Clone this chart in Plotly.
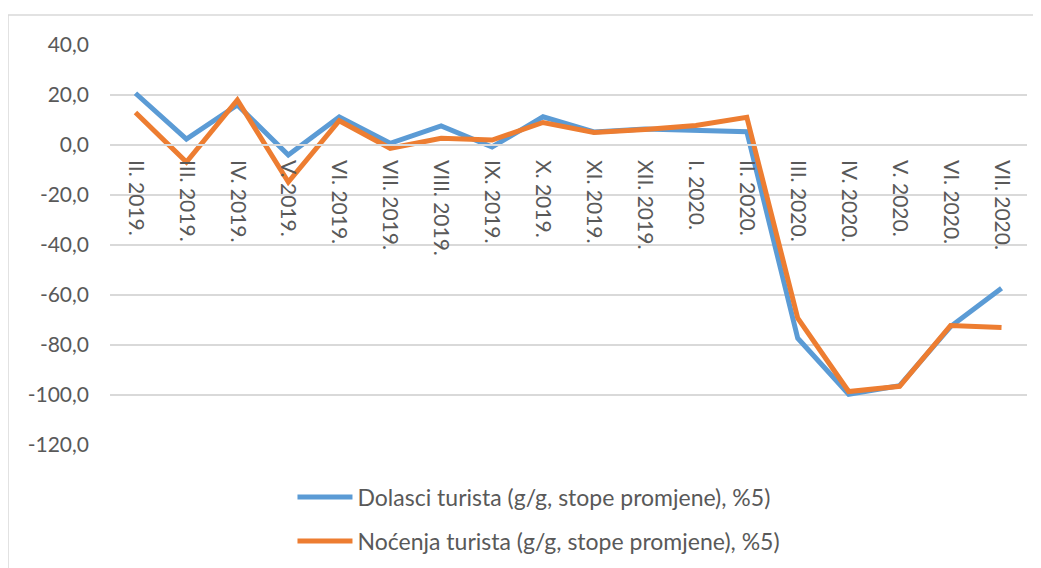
import plotly.graph_objects as go

# mjesečne stope promjene (g/g), %
months = ["II. 2019.", "III. 2019.", "IV. 2019.", "V. 2019.", "VI. 2019.", "VII. 2019.",
          "VIII. 2019.", "IX. 2019.", "X. 2019.", "XI. 2019.", "XII. 2019.", "I. 2020.",
          "II. 2020.", "III. 2020.", "IV. 2020.", "V. 2020.", "VI. 2020.", "VII. 2020."]
dolasci = [20.7, 2.4, 16.0, -4.0, 11.2, 0.7, 7.6, -0.8, 11.3, 5.2, 6.4, 6.0,
           5.3, -77.3, -99.7, -96.3, -72.6, -57.3]
nocenja = [13.0, -6.8, 18.0, -14.8, 9.7, -1.3, 2.7, 2.0, 9.0, 5.0, 6.2, 7.8,
           11.1, -69.3, -98.6, -96.5, -72.2, -73.0]
yticks = [40, 20, 0, -20, -40, -60, -80, -100, -120]
ytext = [f"{v:.1f}".replace(".", ",") for v in yticks]

FONT = "Lato"
GRAY = "#595959"
GRID = "#D9D9D9"

# the page body has an 8px margin, so the figure is 8px smaller than the window
fig = go.Figure()
fig.add_trace(go.Scatter(x=months, y=dolasci, mode="lines", name="Dolasci turista (g/g, stope promjene), %5)",
                         line=dict(color="#5B9BD5", width=5), legend="legend", showlegend=True))
fig.add_trace(go.Scatter(x=months, y=nocenja, mode="lines", name="Noćenja turista (g/g, stope promjene), %5)",
                         line=dict(color="#ED7D31", width=5), legend="legend2", showlegend=True))

fig.update_layout(
    width=1033, height=560,
    margin=dict(l=102, r=14, t=37, b=123, autoexpand=False),
    paper_bgcolor="white", plot_bgcolor="white",
    showlegend=True,
    font=dict(family=FONT, color=GRAY, size=20),
    legend=dict(x=0.199, y=-0.13, xanchor="left", yanchor="middle",
                font=dict(size=23, color=GRAY), itemwidth=55, bgcolor="rgba(0,0,0,0)"),
    legend2=dict(x=0.199, y=-0.24, xanchor="left", yanchor="middle",
                 font=dict(size=23, color=GRAY), itemwidth=55, bgcolor="rgba(0,0,0,0)"),
    shapes=[dict(type="rect", xref="paper", yref="paper",
                 x0=(0 - 102) / 917, x1=(1060 - 102) / 917,
                 y0=(437 - 600) / 400, y1=(437 - 7) / 400,
                 line=dict(color=GRID, width=1.5), layer="below")],
)
fig.update_xaxes(type="category", range=[-0.5, len(months) - 0.5], automargin=False,
                 anchor="free", position=0.75, side="bottom",
                 showline=True, linecolor=GRID, linewidth=1.5, showgrid=False,
                 ticks="", tickangle=90, ticklabelstandoff=10,
                 tickfont=dict(size=21, color=GRAY), zeroline=False)
fig.update_yaxes(range=[-120, 40], tickvals=yticks, ticktext=ytext, automargin=False,
                 showgrid=True, gridcolor=GRID, gridwidth=1.5, zeroline=False,
                 showline=False, ticks="", ticklabelstandoff=20,
                 tickfont=dict(size=21, color=GRAY))

fig.write_html("out.html")
